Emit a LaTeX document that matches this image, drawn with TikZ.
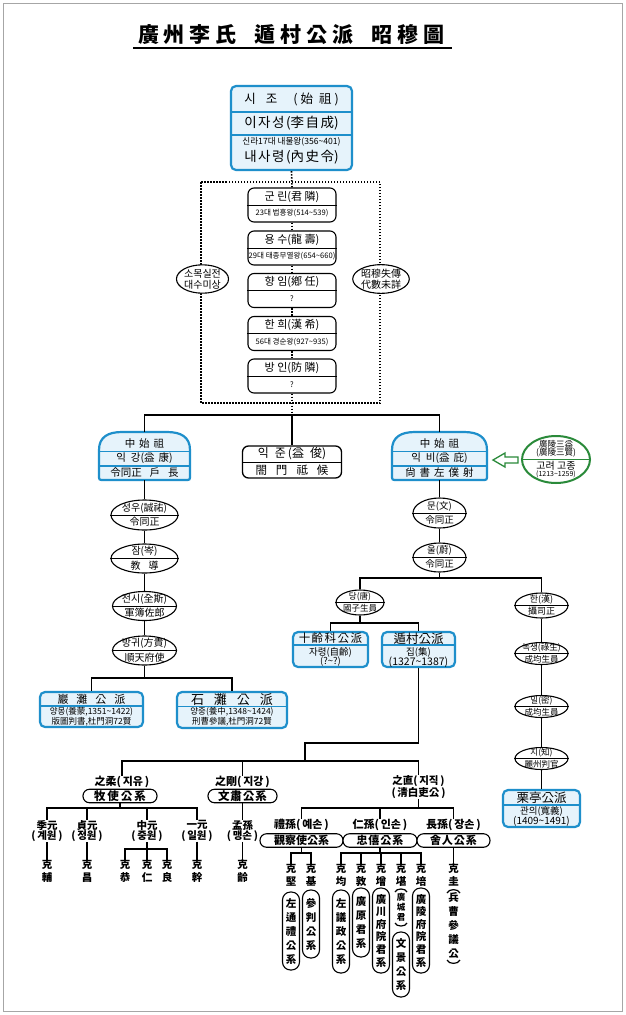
\documentclass[tikz,border=0pt]{standalone}
\usepackage{fontspec}
\setmainfont{Noto Sans CJK KR}
\usetikzlibrary{shapes.geometric}
\definecolor{bblue}{HTML}{1E8FCB}
\definecolor{lblue}{HTML}{E6F3FB}
\definecolor{ggreen}{HTML}{2A8A3A}
\newcommand{\fsz}[1]{\fontsize{#1}{#1}\selectfont}
\newcommand{\tld}{\textasciitilde}
\newcommand{\gp}[1]{\hspace{#1pt}}
\newcommand{\splitoval}[9]{%
  \node[oval, minimum width=#4pt, minimum height=#5pt] (#1) at (#2,#3) {};
  \draw[line width=0.9pt] (#1.west) -- (#1.east);
  \node[txt, font=\fsz{#9}] at ([yshift=#6pt]#1.center) {#7};
  \node[txt, font=\fsz{#9}] at ([yshift=-#6pt]#1.center) {#8};
}
\newcommand{\chainb}[4]{%
  \node[chainbox] (#1) at (292,#2) {};
  \draw[line width=0.8pt] (#1.west) -- (#1.east);
  \node[txt, font=\fsz{11}] at ([yshift=8.5pt]#1.center) {#3};
  \node[txt, font=\fsz{7.6}] at ([yshift=-8.5pt]#1.center) {#4};
}
\begin{document}
\begin{tikzpicture}[x=1pt,y=-1pt,
  txt/.style={inner sep=0pt, outer sep=0pt},
  conn/.style={line width=1.9pt, black},
  dots/.style={line width=1.6pt, dash pattern=on 1.5pt off 1.5pt},
  bluebox/.style={draw=bblue, line width=2.2pt, fill=lblue, rounded corners=5pt, inner sep=0pt},
  bdiv/.style={draw=bblue, line width=1.4pt},
  chainbox/.style={draw=black, line width=1.1pt, fill=white, rounded corners=6pt, inner sep=0pt, minimum width=88pt, minimum height=34pt},
  oval/.style={ellipse, draw=black, line width=1.1pt, fill=white, inner sep=0pt},
  hpill/.style={draw=black, line width=1.1pt, fill=white, rounded corners=6.5pt, inner sep=0pt, minimum height=13.5pt},
  vpill/.style={draw=black, line width=1.1pt, fill=white, rounded corners=8pt, inner sep=0pt, minimum width=17pt, align=center, font=\fontsize{10.5}{14}\selectfont\bfseries},
  nm/.style={inner sep=0pt, align=center, font=\fontsize{11}{11}\selectfont\bfseries},
  nmtwo/.style={inner sep=0pt, align=center, font=\fontsize{10.5}{10.5}\selectfont\bfseries},
  kid/.style={inner sep=0pt, align=center, font=\fontsize{10.5}{12.5}\selectfont\bfseries},
  domebox/.style={draw=bblue, line width=2.2pt, fill=lblue},
  parc/.style={line width=1.2pt}
]
\useasboundingbox (0,0) rectangle (626,1015);
\fill[white] (0,0) rectangle (626,1015);
\draw[black!35, line width=1pt] (3,3) rectangle (622,1011);

% title
\node[txt, font=\fsz{21}\bfseries] (title) at (291.5,35) {廣\gp{5}州\gp{5}李\gp{5}氏\gp{18}遁\gp{5}村\gp{5}公\gp{5}派\gp{18}昭\gp{5}穆\gp{5}圖};
\draw[line width=1.3pt] (133,48) -- (452,48);

% top box
\node[bluebox, minimum width=121pt, minimum height=84pt] (sijo) at (291.5,128) {};
\draw[bdiv] (231,112) -- (352,112) (231,135) -- (352,135);
\node[txt, font=\fsz{12.5}] at (291.5,99) {시\gp{10}조\gp{16}(\gp{3}始\gp{6}祖\gp{3})};
\node[txt, font=\fsz{13.5}] at (291.5,123.5) {이\gp{1.5}자\gp{1.5}성\gp{1.5}(李\gp{1.5}自\gp{1.5}成)};
\node[txt, font=\fsz{8.6}] at (291.5,142) {신라17대 내물왕(356\tld401)};
\node[txt, font=\fsz{13.5}] at (291.5,157) {내\gp{1.5}사\gp{1.5}령\gp{1.5}(內\gp{1.5}史\gp{1.5}令)};

% dotted frame and chain
\draw[dots] (201,182) rectangle (380,403);
\coordinate (busA) at (292,415);
\chainb{c1}{205}{군\ 린(君\ 隣)}{23대 법흥왕(514\tld539)}
\chainb{c2}{248}{용\ 수(龍\ 壽)}{29대 태종무열왕(654\tld660)}
\chainb{c3}{290.5}{향\ 임(鄕\ 任)}{?}
\chainb{c4}{333.5}{한\ 희(漢\ 希)}{56대 경순왕(927\tld935)}
\chainb{c5}{376}{방\ 인(防\ 隣)}{?}
\draw[dots] (sijo.south) -- (c1.north);
\draw[dots] (c1.south) -- (c2.north);
\draw[dots] (c2.south) -- (c3.north);
\draw[dots] (c3.south) -- (c4.north);
\draw[dots] (c4.south) -- (c5.north);
\draw[dots] (c5.south) -- (busA);
\node[oval, minimum width=52pt, minimum height=28pt, align=center, font=\fontsize{10}{11}\selectfont] (lsm) at (202.5,279) {소목실전\\대수미상};
\node[oval, minimum width=52pt, minimum height=28pt, align=center, font=\fontsize{10}{11}\selectfont] (rsm) at (381,279) {昭穆失傳\\代數未詳};

% generation of 益
\node[txt, minimum width=91pt, minimum height=48pt] (ikang) at (144.5,456) {};
\node[txt, minimum width=95pt, minimum height=48pt] (ikbi) at (439.5,456) {};
\draw[domebox] (99,475) -- (99,450) .. controls (99,437) and (108,432) .. (122,432) -- (167,432) .. controls (181,432) and (190,437) .. (190,450) -- (190,475) .. controls (190,480) .. (185,480) -- (104,480) .. controls (99,480) .. (99,475) -- cycle;
\draw[bdiv] (99,451.5) -- (190,451.5) (99,466) -- (190,466);
\node[txt, font=\fsz{10.5}] at (144.5,444) {中\gp{4}始\gp{4}祖};
\node[txt, font=\fsz{10.5}] at (144.5,458.5) {익\gp{5}강(益\gp{4}康)};
\node[txt, font=\fsz{10.5}] at (144.5,473) {令同正\gp{8}戶\gp{8}長};
\draw[domebox] (392,475) -- (392,450) .. controls (392,437) and (401,432) .. (415,432) -- (464,432) .. controls (478,432) and (487,437) .. (487,450) -- (487,475) .. controls (487,480) .. (482,480) -- (397,480) .. controls (392,480) .. (392,475) -- cycle;
\draw[bdiv] (392,451.5) -- (487,451.5) (392,466) -- (487,466);
\node[txt, font=\fsz{10.5}] at (439.5,444) {中\gp{4}始\gp{4}祖};
\node[txt, font=\fsz{10.5}] at (439.5,458.5) {익\gp{5}비(益\gp{4}庇)};
\node[txt, font=\fsz{10.5}] at (439.5,473) {尙\gp{4}書\gp{4}左\gp{4}僕\gp{4}射};
\node[draw, line width=1.3pt, fill=white, rounded corners=6pt, minimum width=99pt, minimum height=32pt, inner sep=0pt] (ikjun) at (292,462) {};
\draw[line width=0.9pt] (ikjun.west) -- (ikjun.east);
\node[txt, font=\fsz{12}] at (292,454) {익\gp{6}준\gp{2}(益\gp{6}俊)};
\node[txt, font=\fsz{11.5}] at (292,470) {閤\gp{9}門\gp{9}祗\gp{9}候};
\draw[conn] (ikang.north) |- (busA) -| (ikbi.north);
\draw[conn] (busA) -- (ikjun.north);

% green
\node[ellipse, draw=ggreen, line width=2pt, fill=white, minimum width=68pt, minimum height=47pt, inner sep=0pt] (gory) at (556,459.5) {};
\draw[ggreen, line width=1.5pt] (gory.west) -- (gory.east);
\node[txt, font=\fsz{8.5}] at (556,444) {廣陵三益};
\node[txt, font=\fsz{8.5}] at (556,453) {(廣陵三賢)};
\node[txt, font=\fsz{10}] at (556,465.5) {고려 고종};
\node[txt, font=\fsz{7}] at (556,474) {(1213\tld1259)};
\draw[ggreen, line width=1.3pt, fill=white] (493,460) -- (505,453) -- (505,457) -- (518,457) -- (518,463) -- (505,463) -- (505,467) -- cycle;

% left chain
\splitoval{o1}{144.5}{515}{67}{30}{6.8}{성우(誠祐)}{令同正}{10}
\splitoval{o2}{144.5}{558.5}{67}{29}{6.8}{잠(岑)}{教\gp{8}導}{10}
\splitoval{o3}{144.5}{606}{64}{29}{6.8}{전시(全斯)}{軍簿佐郎}{10}
\splitoval{o4}{144.5}{650.5}{64}{29}{6.8}{방귀(方貴)}{順天府使}{10}
\draw[conn] (ikang.south) -- (o1.north);
\draw[conn] (o1.south) -- (o2.north);
\draw[conn] (o2.south) -- (o3.north);
\draw[conn] (o3.south) -- (o4.north);
\coordinate (busB) at (144.5,678);
\draw[conn] (o4.south) -- (busB);
\node[bluebox, minimum width=103pt, minimum height=35pt] (amtan) at (91.5,709.5) {};
\draw[bdiv] (40,706) -- (143,706);
\node[txt, font=\fsz{11}] at (91.5,699.5) {巖\gp{8}灘\gp{8}公\gp{8}派};
\node[txt, font=\fsz{8.5}] at (91.5,711.5) {양몽(養蒙,1351\tld1422)};
\node[txt, font=\fsz{8.5}] at (91.5,721.5) {版圖判書,杜門洞72賢};
\node[bluebox, minimum width=110pt, minimum height=36pt] (seoktan) at (232,710) {};
\draw[bdiv] (177,706.5) -- (287,706.5);
\node[txt, font=\fsz{13}] at (232,699.5) {石\gp{10}灘\gp{10}公\gp{10}派};
\node[txt, font=\fsz{8.5}] at (232,712) {양중(養中,1348\tld1424)};
\node[txt, font=\fsz{8.5}] at (232,722) {刑曹參議,杜門洞72賢};
\draw[conn] (amtan.north) |- (busB) -| (seoktan.north);

% right chain
\splitoval{r1}{439.5}{513}{53}{30}{6.8}{문(文)}{令同正}{9.5}
\splitoval{r2}{439.5}{557.5}{53}{29}{6.8}{울(蔚)}{令同正}{9.5}
\coordinate (busC) at (439.5,578);
\draw[conn] (ikbi.south) -- (r1.north);
\draw[conn] (r1.south) -- (r2.north);
\draw[conn] (r2.south) -- (busC);
\splitoval{r3}{360}{602.5}{48}{25}{6}{당(唐)}{國子生員}{8.5}
\splitoval{r4}{541.5}{605.5}{53}{25}{6}{한(漢)}{攝司正}{9}
\draw[conn] (r3.north) |- (busC) -| (r4.north);
\coordinate (busD) at (360,623);
\draw[conn] (r3.south) -- (busD);
\node[bluebox, minimum width=75pt, minimum height=35pt] (sipr) at (330.5,649.5) {};
\draw[bdiv] (293,645) -- (368,645);
\node[txt, font=\fsz{11.5}] at (330.5,638.5) {十\gp{1.5}齡\gp{1.5}科\gp{1.5}公\gp{1.5}派};
\node[txt, font=\fsz{9.5}] at (330.5,652.5) {자령(自齡)};
\node[txt, font=\fsz{9.5}] at (330.5,662) {(?\tld?)};
\node[bluebox, minimum width=73pt, minimum height=35pt] (dunchon) at (418.5,649.5) {};
\draw[bdiv] (382,645) -- (455,645);
\node[txt, font=\fsz{12.5}] at (418.5,638.5) {遁村公派};
\node[txt, font=\fsz{9.5}] at (418.5,652.5) {집(集)};
\node[txt, font=\fsz{10.5}] at (418.5,662) {(1327\tld1387)};
\draw[conn] (sipr.north) |- (busD) -| (dunchon.north);
\splitoval{r5}{541.5}{653.5}{53}{22}{5.5}{녹생(祿生)}{成均生員}{8.5}
\splitoval{r6}{541.5}{706.5}{53}{22}{5.5}{밀(密)}{成均生員}{8.5}
\splitoval{r7}{541.5}{758.5}{53}{22}{5.5}{지(知)}{麗州判官}{8.5}
\node[bluebox, minimum width=77pt, minimum height=37pt] (yul) at (541.5,808.5) {};
\draw[bdiv] (503,805) -- (580,805);
\node[txt, font=\fsz{12.5}] at (541.5,797.5) {栗亭公派};
\node[txt, font=\fsz{9.5}] at (541.5,811) {관의(寬義)};
\node[txt, font=\fsz{10}] at (541.5,821) {(1409\tld1491)};
\draw[conn] (r4.south) -- (r5.north);
\draw[conn] (r5.south) -- (r6.north);
\draw[conn] (r6.south) -- (r7.north);
\draw[conn] (r7.south) -- (yul.north);

% 遁村 descendants
\coordinate (jE) at (305,743);
\coordinate (busE) at (305,761);
\draw[conn] (dunchon.south) |- (jE) -- (busE);
\node[nm] (jiyu) at (122,782) {之柔(\,지유\,)};
\node[hpill, minimum width=74pt, font=\fsz{11.5}\bfseries] (moksa) at (120,796) {牧\gp{2}使\gp{2}公\gp{2}系};
\node[nm] (jigang) at (242.5,782) {之剛(\,지강\,)};
\node[hpill, minimum width=69pt, font=\fsz{11.5}\bfseries] (munsuk) at (242.5,796) {文\gp{1}肅\gp{1}公\gp{1}系};
\node[nmtwo] (jijik) at (418.5,787) {之直(\,지직\,)\\(\,淸白吏公\,)};
\draw[conn] (jiyu.north) |- (busE) -| (jijik.north);
\draw[conn] (jigang.north) -- (jigang.north |- busE);

\coordinate (busF) at (120,808);
\draw[conn] (moksa.south) -- (busF);
\node[nmtwo] (gyewon) at (47,831) {季元\\(\,계원\,)};
\node[nmtwo] (jeongwon) at (87,831) {貞元\\(\,정원\,)};
\node[nmtwo] (jungwon) at (147,831) {中元\\(\,중원\,)};
\node[nmtwo] (ilwon) at (197,831) {一元\\(\,일원\,)};
\node[nmtwo] (maengson) at (242.5,831) {孟孫\\(\,맹손\,)};
\draw[conn] (gyewon.north) |- (busF) -| (ilwon.north);
\draw[conn] (jeongwon.north) -- (jeongwon.north |- busF);
\draw[conn] (jungwon.north) -- (jungwon.north |- busF);
\draw[conn] (munsuk.south) -- (maengson.north);

\node[kid] (kbo) at (47,871) {克\\輔};
\node[kid] (kchang) at (87,871) {克\\昌};
\node[kid] (kgong) at (125,871) {克\\恭};
\node[kid] (kin) at (147,871) {克\\仁};
\node[kid] (kryang) at (167,871) {克\\良};
\node[kid] (kgan) at (197,871) {克\\幹};
\node[kid] (kryeong) at (242.5,871) {克\\齡};
\draw[conn] (gyewon.south) -- (kbo.north);
\draw[conn] (jeongwon.south) -- (kchang.north);
\coordinate (busH) at (147,849);
\draw[conn] (jungwon.south) -- (busH);
\draw[conn] (kgong.north) |- (busH) -| (kryang.north);
\draw[conn] (busH) -- (kin.north);
\draw[conn] (ilwon.south) -- (kgan.north);
\draw[conn] (maengson.south) -- (kryeong.north);

\coordinate (busG) at (418.5,808);
\draw[conn] (jijik.south) -- (busG);
\node[nm] (yeson) at (301.5,825) {禮孫(\,예손\,)};
\node[nm] (inson) at (380,825) {仁孫(\,인손\,)};
\node[nm] (jangson) at (453.5,825) {長孫(\,장손\,)};
\draw[conn] (yeson.north) |- (busG) -| (jangson.north);
\draw[conn] (inson.north) -- (inson.north |- busG);
\node[hpill, minimum width=83pt, font=\fsz{11}\bfseries] (gwanchal) at (301.5,840.5) {觀察使公系};
\node[hpill, minimum width=74pt, font=\fsz{11}\bfseries] (chunghui) at (380,840.5) {忠\gp{1}僖\gp{1}公\gp{1}系};
\node[hpill, minimum width=73pt, font=\fsz{11}\bfseries] (saim) at (453.5,840.5) {舍\gp{1}人\gp{1}公\gp{1}系};

\coordinate (busI) at (301.5,853);
\draw[conn] (gwanchal.south) -- (busI);
\node[kid] (kgyeon) at (291,875) {克\\堅};
\node[kid] (kgi) at (311,875) {克\\基};
\draw[conn] (kgyeon.north) |- (busI) -| (kgi.north);
\coordinate (busJ) at (380,853);
\draw[conn] (chunghui.south) -- (busJ);
\node[kid] (kgyun) at (341,875) {克\\均};
\node[kid] (kdon) at (361,875) {克\\敦};
\node[kid] (kjeung) at (381,875) {克\\增};
\node[kid] (kgam) at (401,875) {克\\堪};
\node[kid] (kbae) at (421,875) {克\\培};
\draw[conn] (kgyun.north) |- (busJ) -| (kbae.north);
\draw[conn] (kdon.north) -- (kdon.north |- busJ);
\draw[conn] (kjeung.north) -- (kjeung.north |- busJ);
\draw[conn] (kgam.north) -- (kgam.north |- busJ);
\node[kid] (kgyu) at (453.5,875) {克\\圭};
\draw[conn] (saim.south) -- (kgyu.north);

% vertical pills
\node[vpill, minimum height=78pt] (p1) at (291,931) {左\\通\\禮\\公\\系};
\node[vpill, minimum height=68pt] (p2) at (311,924) {參\\判\\公\\系};
\node[vpill, minimum height=83pt] (p3) at (341,931.5) {左\\議\\政\\公\\系};
\node[vpill, minimum height=69pt] (p4) at (361,922.5) {廣\\原\\君\\系};
\node[vpill, minimum height=85pt, font=\fontsize{10.5}{12.6}\selectfont\bfseries] (p5) at (381,930.5) {廣\\川\\府\\院\\君\\系};
\node[txt, align=center, font=\fontsize{8.5}{10}\selectfont\bfseries] (gseong) at (401,907.5) {廣\\城\\君};
\draw[parc] (395,892) .. controls (396,888) and (406,888) .. (407,892);
\draw[parc] (395,923) .. controls (396,927) and (406,927) .. (407,923);
\node[vpill, minimum height=65pt] (p6) at (401,964.5) {文\\景\\公\\系};
\node[vpill, minimum height=85pt, font=\fontsize{10.5}{12.6}\selectfont\bfseries] (p7) at (421,930.5) {廣\\陵\\府\\院\\君\\系};
\node[txt, align=center, font=\fontsize{10.5}{14}\selectfont\bfseries] (byeong) at (453.5,926) {兵\\曹\\參\\議\\公};
\draw[parc] (447,893) .. controls (448.5,888.5) and (458.5,888.5) .. (460,893);
\draw[parc] (447,960) .. controls (448.5,964.5) and (458.5,964.5) .. (460,960);
\end{tikzpicture}
\end{document}
